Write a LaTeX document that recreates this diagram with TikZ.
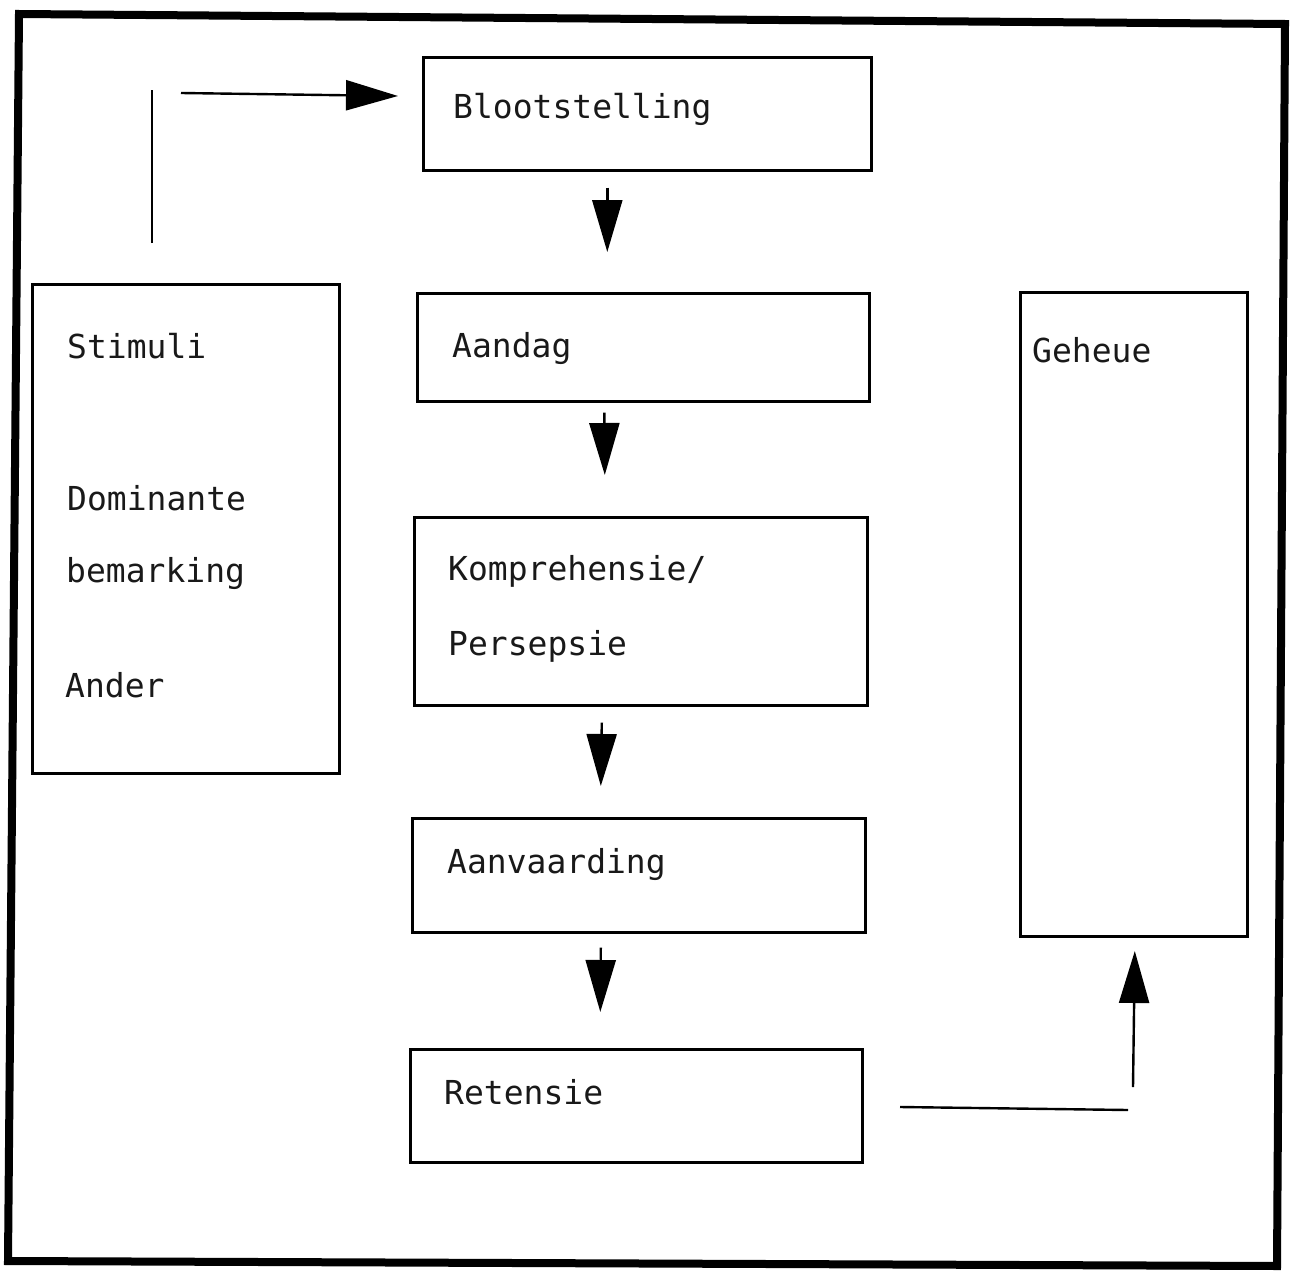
\documentclass[tikz,border=0pt]{standalone}
\usepackage{fontspec}
\setmonofont{DejaVu Sans Mono}
\usetikzlibrary{arrows.meta}
\begin{document}
\begin{tikzpicture}[x=1pt,y=-1pt,
  box/.style={draw, line width=2.6pt, inner sep=0pt, anchor=north west},
  lbl/.style={anchor=base west, inner sep=0pt, text=black!90,
              font=\ttfamily\fontsize{33}{40}\selectfont},
  flow/.style={line width=2.4pt, -{Triangle[length=52pt,width=30pt]}},
  plainline/.style={line width=2.4pt}]
\useasboundingbox (0,0) rectangle (1296,1274);

% outer frame
\draw[line width=8pt, line join=miter] (19,14) -- (1285,24) -- (1277,1266) -- (8,1261) -- cycle;

% process boxes
\node[box, minimum width=448pt, minimum height=113pt] (bloot) at (422,56) {};
\node[box, minimum width=452pt, minimum height=108pt] (aandag) at (416,292) {};
\node[box, minimum width=453pt, minimum height=188pt] (kompr) at (413,516) {};
\node[box, minimum width=453pt, minimum height=114pt] (aanv) at (411,817) {};
\node[box, minimum width=452pt, minimum height=113pt] (ret) at (409,1048) {};
\node[box, minimum width=307pt, minimum height=489pt] (stim) at (31,283) {};
\node[box, minimum width=227pt, minimum height=644pt] (geh) at (1019,291) {};

% labels
\node[lbl] (tbloot) at (453,118) {Blootstelling};
\node[lbl] (taandag) at (452,357) {Aandag};
\node[lbl] (tkompr) at (448,580) {Komprehensie/};
\node[lbl] (tpers) at (448,655) {Persepsie};
\node[lbl] (taanv) at (447,873) {Aanvaarding};
\node[lbl] (tret) at (444,1104) {Retensie};
\node[lbl] (tstim) at (67,358) {Stimuli};
\node[lbl] (tdom) at (67,510) {Dominante};
\node[lbl] (tbem) at (66,582) {bemarking};
\node[lbl] (tander) at (65,697) {Ander};
\node[lbl] (tgeh) at (1032,362) {Geheue};

% downward flow between the stages
\draw[flow] ([xshift=-40pt,yshift=-16pt]bloot.south) -- ([xshift=-36pt,yshift=40pt]aandag.north);
\draw[flow] ([xshift=-39pt,yshift=-10pt]aandag.south) -- ([xshift=-36pt,yshift=41pt]kompr.north);
\draw[flow] ([xshift=-39pt,yshift=-16pt]kompr.south) -- ([xshift=-38pt,yshift=31pt]aanv.north);
\draw[flow] ([xshift=-38pt,yshift=-14pt]aanv.south) -- ([xshift=-36pt,yshift=36pt]ret.north);

% stimuli feed into exposure
\coordinate (s1) at (152,243);
\coordinate (s2) at (152,90);
\coordinate (s3) at (181,93);
\draw[plainline] (s1) -- (s2);
\draw[flow] (s3) -- ([xshift=-24pt]bloot.west |- 0,96);

% retention feeds memory
\coordinate (r1) at (900,1107);
\coordinate (r2) at (1128,1110);
\coordinate (r3) at (1133,1087);
\draw[plainline] (r1) -- (r2);
\draw[flow] (r3) -- ([xshift=1pt,yshift=-16pt]geh.south |- 0,935);
\end{tikzpicture}
\end{document}
